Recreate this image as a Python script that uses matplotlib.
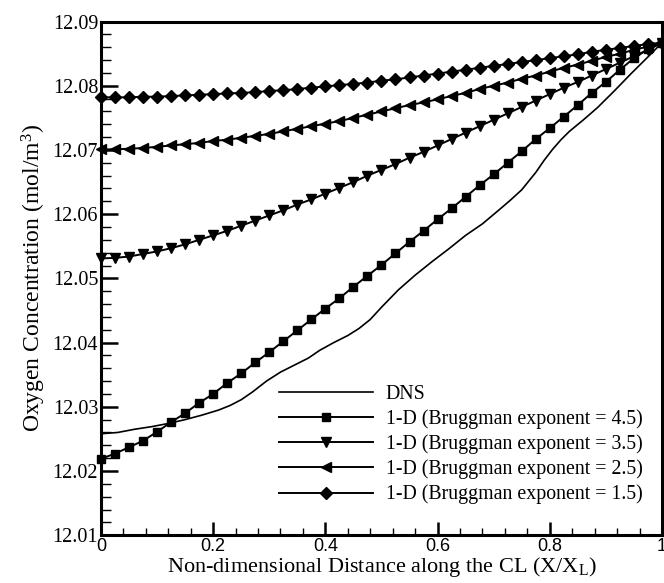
import numpy as np
import matplotlib
matplotlib.use("Agg")
import matplotlib.pyplot as plt
from matplotlib.ticker import MultipleLocator, FixedLocator, FixedFormatter

plt.rcParams['font.family'] = ['Liberation Serif', 'DejaVu Serif']
plt.rcParams['mathtext.fontset'] = 'custom'
plt.rcParams['mathtext.rm'] = 'Liberation Serif'
plt.rcParams['mathtext.it'] = 'Liberation Serif:italic'

# 1-D model points, every 0.025 along the CL
x_1d = [0.000, 0.025, 0.050, 0.075, 0.100, 0.125, 0.150, 0.175, 0.200, 0.225,
        0.250, 0.275, 0.300, 0.325, 0.350, 0.375, 0.400, 0.425, 0.450, 0.475,
        0.500, 0.525, 0.550, 0.575, 0.600, 0.625, 0.650, 0.675, 0.700, 0.725,
        0.750, 0.775, 0.800, 0.825, 0.850, 0.875, 0.900, 0.925, 0.950, 0.975,
        1.000]

# Bruggman exponent = 4.5
y_45 = [12.0219, 12.0227, 12.0237, 12.0247, 12.0261, 12.0276, 12.0290, 12.0306,
        12.0320, 12.0337, 12.0352, 12.0369, 12.0385, 12.0402, 12.0419, 12.0436,
        12.0453, 12.0469, 12.0487, 12.0504, 12.0521, 12.0539, 12.0557, 12.0574,
        12.0592, 12.0609, 12.0627, 12.0645, 12.0662, 12.0680, 12.0698, 12.0717,
        12.0734, 12.0752, 12.0770, 12.0789, 12.0806, 12.0825, 12.0843, 12.0857,
        12.0867]

# Bruggman exponent = 3.5
y_35 = [12.0531, 12.0532, 12.0534, 12.0538, 12.0542, 12.0547, 12.0553, 12.0560,
        12.0567, 12.0574, 12.0582, 12.0590, 12.0598, 12.0606, 12.0615, 12.0623,
        12.0632, 12.0641, 12.0650, 12.0660, 12.0669, 12.0678, 12.0688, 12.0697,
        12.0707, 12.0717, 12.0727, 12.0737, 12.0747, 12.0757, 12.0767, 12.0777,
        12.0787, 12.0797, 12.0806, 12.0816, 12.0826, 12.0836, 12.0846, 12.0856,
        12.0867]

# Bruggman exponent = 2.5
y_25 = [12.0701, 12.0701, 12.0702, 12.0703, 12.0705, 12.0707, 12.0709, 12.0711,
        12.0714, 12.0716, 12.0719, 12.0722, 12.0725, 12.0729, 12.0733, 12.0737,
        12.0741, 12.0745, 12.0750, 12.0755, 12.0760, 12.0765, 12.0770, 12.0774,
        12.0779, 12.0784, 12.0789, 12.0795, 12.0800, 12.0805, 12.0811, 12.0816,
        12.0822, 12.0828, 12.0833, 12.0839, 12.0845, 12.0850, 12.0856, 12.0861,
        12.0867]

# Bruggman exponent = 1.5
y_15 = [12.0782, 12.0782, 12.0782, 12.0783, 12.0783, 12.0784, 12.0785, 12.0786,
        12.0787, 12.0788, 12.0789, 12.0790, 12.0792, 12.0793, 12.0795, 12.0797,
        12.0799, 12.0801, 12.0803, 12.0805, 12.0808, 12.0810, 12.0813, 12.0816,
        12.0819, 12.0822, 12.0825, 12.0828, 12.0831, 12.0834, 12.0837, 12.0840,
        12.0843, 12.0846, 12.0849, 12.0853, 12.0856, 12.0859, 12.0862, 12.0865,
        12.0867]

# DNS curve
x_dns = [0.0, 0.03, 0.06, 0.09, 0.12, 0.15, 0.18, 0.21, 0.23, 0.25, 0.27, 0.295,
         0.32, 0.345, 0.37, 0.39, 0.415, 0.44, 0.46, 0.48, 0.5, 0.53, 0.56, 0.59,
         0.62, 0.65, 0.68, 0.71, 0.73, 0.75, 0.775, 0.79, 0.805, 0.82, 0.835,
         0.86, 0.885, 0.915, 0.945, 0.975, 1.0]
y_dns = [12.0258, 12.0260, 12.0265, 12.0269, 12.0274, 12.0280, 12.0287, 12.0295,
         12.0302, 12.0311, 12.0323, 12.0340, 12.0354, 12.0365, 12.0376, 12.0388,
         12.0400, 12.0411, 12.0422, 12.0436, 12.0455, 12.0482, 12.0505, 12.0526,
         12.0546, 12.0567, 12.0585, 12.0607, 12.0622, 12.0638, 12.0665, 12.0684,
         12.0701, 12.0716, 12.0729, 12.0747, 12.0766, 12.0792, 12.0819, 12.0845,
         12.0867]

labels = ['DNS',
          '1-D (Bruggman exponent = 4.5)',
          '1-D (Bruggman exponent = 3.5)',
          '1-D (Bruggman exponent = 2.5)',
          '1-D (Bruggman exponent = 1.5)']

x_ticks = [0, 0.2, 0.4, 0.6, 0.8, 1.0]
x_ticklabels = ['0', '0.2', '0.4', '0.6', '0.8', '1']
y_ticks = [12.01, 12.02, 12.03, 12.04, 12.05, 12.06, 12.07, 12.08, 12.09]

fig = plt.figure(figsize=(6.64, 5.83), dpi=100)
ax = fig.add_axes([0.152, 0.082, 0.845, 0.881])

ax.plot(x_dns, y_dns, 'k-', lw=1.2, label=labels[0])
ax.plot(x_1d, y_45, 'k-', lw=1.4, marker='s', ms=5.5, clip_on=False, label=labels[1])
ax.plot(x_1d, y_35, 'k-', lw=1.4, marker='v', ms=6.5, clip_on=False, label=labels[2])
ax.plot(x_1d, y_25, 'k-', lw=1.4, marker='<', ms=6.5, clip_on=False, label=labels[3])
ax.plot(x_1d, y_15, 'k-', lw=1.4, marker='D', ms=6.2, clip_on=False, label=labels[4])

ax.set_xlim(0, 1)
ax.set_ylim(12.01, 12.09)

ax.xaxis.set_major_locator(FixedLocator(x_ticks))
ax.xaxis.set_major_formatter(FixedFormatter(x_ticklabels))
ax.xaxis.set_minor_locator(MultipleLocator(0.04))
ax.yaxis.set_major_locator(FixedLocator(y_ticks))
ax.yaxis.set_minor_locator(MultipleLocator(0.002))
ax.yaxis.set_major_formatter(plt.FuncFormatter(lambda v, p: '%.2f' % v))

ax.tick_params(axis='both', which='both', direction='in', top=False, right=False)
ax.tick_params(axis='y', which='major', length=12, width=1.8, labelsize=14.5, pad=2)
ax.tick_params(axis='y', which='minor', length=7, width=1.0)
ax.tick_params(axis='x', which='major', length=9.5, width=1.8, labelsize=13, pad=2)
ax.tick_params(axis='x', which='minor', length=5, width=1.0)
for lab in ax.get_xticklabels():
    lab.set_family('Liberation Sans')

for sp in ax.spines.values():
    sp.set_linewidth(2.2)

ax.set_ylabel('Oxygen Concentration (mol/m$^{3}$)', fontsize=17, labelpad=3)
ax.set_xlabel('Non-dimensional Distance along the CL (X/X$_{\\mathrm{L}}$)', fontsize=16, labelpad=0)

ax.legend(loc='lower right', bbox_to_anchor=(0.997, 0.025), frameon=False, numpoints=1,
          fontsize=14.3, handlelength=4.7, handletextpad=0.65, labelspacing=0.27)

fig.savefig('out.png', dpi=100)
